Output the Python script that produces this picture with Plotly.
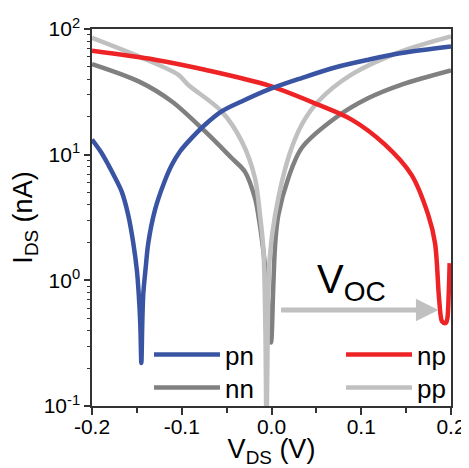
import math
import plotly.graph_objects as go

# ---- data ----
v_pn = [-0.2, -0.19, -0.1818, -0.175, -0.167, -0.1596, -0.154, -0.150, -0.148, -0.1462, -0.145,
        -0.1440, -0.1428, -0.140, -0.1373, -0.1298, -0.12, -0.111, -0.102, -0.0927, -0.0741,
        -0.0556, -0.0333, -0.0036, 0.0336, 0.0707, 0.108, 0.145, 0.2]
i_pn = [13.2, 10.5, 8.3, 6.7, 5.1, 3.3, 1.98, 1.2, 0.79, 0.45, 0.22,
        0.45, 0.79, 1.3, 1.98, 3.64, 5.9, 8.3, 10.6, 12.7, 17.3,
        22.1, 26.5, 32.9, 40.7, 49.4, 57.0, 64.4, 72.6]

v_np = [-0.2, -0.1298, -0.0741, -0.0036, 0.052, 0.0893, 0.1265, 0.156, 0.1747, 0.1822,
        0.1865, 0.1895, 0.1915, 0.1945, 0.196, 0.1975, 0.1985]
i_np = [67.1, 57.0, 47.4, 35.6, 25.0, 19.0, 12.0, 6.9, 3.3, 1.98,
        0.75, 0.48, 0.46, 0.46, 0.5, 0.8, 1.37]

v_nn = [-0.2, -0.148, -0.111, -0.074, -0.0444, -0.0295, -0.0184, -0.0147, -0.009, -0.005,
        -0.0005, 0.002, 0.004, 0.0076, 0.0187, 0.0336, 0.0707, 0.108, 0.145, 0.2]
i_nn = [52.6, 38.3, 26.5, 15.3, 9.4, 7.3, 4.5, 3.3, 1.7, 0.9,
        0.32, 0.9, 1.9, 3.3, 6.5, 11.3, 19.5, 28.2, 36.1, 46.8]

v_pp = [-0.2, -0.148, -0.104, -0.093, -0.0556, -0.033, -0.0184, -0.0128, -0.009, -0.0068,
        -0.0055, -0.0042, -0.002, 0.004, 0.0187, 0.0336, 0.052, 0.089, 0.145, 0.2]
i_pp = [85.0, 60.5, 43.3, 36.0, 22.1, 12.7, 6.5, 3.3, 1.75, 0.4,
        0.05, 0.4, 1.5, 3.3, 9.4, 17.3, 26.5, 43.3, 66.4, 87.3]

x_tickvals = [-0.2, -0.1, 0.0, 0.1, 0.2]
x_ticktext = ["-0.2", "-0.1", "0.0", "0.1", "0.2"]
x_minorvals = [-0.15, -0.05, 0.05, 0.15]
x_topvals = [-0.15, -0.1, -0.05, 0.0, 0.05, 0.1, 0.15]
y_tickvals = [0.1, 1, 10, 100]
y_ticktext = ["10<sup>-1</sup>", "10<sup>0</sup>", "10<sup>1</sup>", "10<sup>2</sup>"]
y_minorvals = [k * 10 ** e for e in (-1, 0, 1) for k in range(2, 10)]

voc_x = [0.009, 0.186]
voc_y = 0.58
voc_label_x = 0.048
voc_label_y = 0.97

FONT = "Liberation Sans, Arial, sans-serif"
AX = "#333333"

fig = go.Figure()
series = [
    ("nn", v_nn, i_nn, "#808080", "legend3"),
    ("pp", v_pp, i_pp, "#c0c0c0", "legend4"),
    ("np", v_np, i_np, "#ee2326", "legend2"),
    ("pn", v_pn, i_pn, "#3a54a4", "legend"),
]
for name, xs, ys, col, leg in series:
    fig.add_trace(go.Scatter(
        x=xs, y=ys, name=name, mode="lines",
        line=dict(color=col, width=4.5, shape="spline", smoothing=0.9),
        legend=leg, cliponaxis=True,
    ))

fig.add_annotation(
    x=voc_x[1], y=math.log10(voc_y), ax=voc_x[0], ay=math.log10(voc_y),
    xref="x", yref="y", axref="x", ayref="y", text="", showarrow=True,
    arrowhead=2, arrowsize=0.9, arrowwidth=5, arrowcolor="#c0c0c0",
)
fig.add_annotation(
    x=voc_label_x, y=math.log10(voc_label_y), xref="x", yref="y",
    text="V<sub>OC</sub>", showarrow=False, xanchor="left", yanchor="middle",
    font=dict(family=FONT, size=40, color="black"),
)

leg_common = dict(xanchor="left", yanchor="top", bgcolor="rgba(0,0,0,0)",
                  font=dict(size=26, family=FONT), itemwidth=66)
row1_y = 0.199
row2_y = row1_y - 33 / 377
col1_x = 0.1588
col2_x = 0.6936

# the page body adds an 8px offset; the figure is sized so the plot area
# lands at x 92..451, y 29..406 in the 469x468 window
fig.update_layout(
    width=461, height=460,
    margin=dict(l=84, r=18, t=21, b=62, autoexpand=False),
    paper_bgcolor="white", plot_bgcolor="white",
    font=dict(family=FONT, color="black"),
    xaxis=dict(
        range=[-0.2, 0.2], tickvals=x_tickvals, ticktext=x_ticktext, automargin=False,
        ticks="outside", ticklen=7, tickwidth=1.5, tickcolor=AX, ticklabelstandoff=-6,
        showline=True, linecolor=AX, linewidth=1.5, mirror=True,
        showgrid=False, zeroline=False,
        minor=dict(tickvals=x_minorvals, ticks="outside", ticklen=5, tickwidth=1.5, tickcolor=AX),
        tickfont=dict(size=21, family=FONT, color="black"),
        title=dict(text="V<sub>DS</sub> (V)", font=dict(size=27, family=FONT), standoff=18),
    ),
    xaxis2=dict(
        range=[-0.2, 0.2], overlaying="x", side="top", anchor="y", automargin=False,
        tickvals=x_topvals, ticks="inside", ticklen=5, tickwidth=1.5, tickcolor=AX,
        showticklabels=False, showline=False, showgrid=False, zeroline=False,
    ),
    yaxis=dict(
        type="log", range=[-1, 2], tickvals=y_tickvals, ticktext=y_ticktext, automargin=False,
        ticks="outside", ticklen=6, tickwidth=1.5, tickcolor=AX,
        showline=True, linecolor=AX, linewidth=1.5, mirror=True,
        showgrid=False, zeroline=False,
        minor=dict(tickvals=y_minorvals, ticks="outside", ticklen=3, tickwidth=1.2, tickcolor=AX),
        tickfont=dict(size=21, family=FONT, color="black"),
        title=dict(text="I<sub>DS</sub> (nA)", font=dict(size=27, family=FONT), standoff=6),
    ),
    legend=dict(x=col1_x, y=row1_y, **leg_common),
    legend3=dict(x=col1_x, y=row2_y, **leg_common),
    legend2=dict(x=col2_x, y=row1_y, **leg_common),
    legend4=dict(x=col2_x, y=row2_y, **leg_common),
    showlegend=True,
)

fig.write_html("out.html")
